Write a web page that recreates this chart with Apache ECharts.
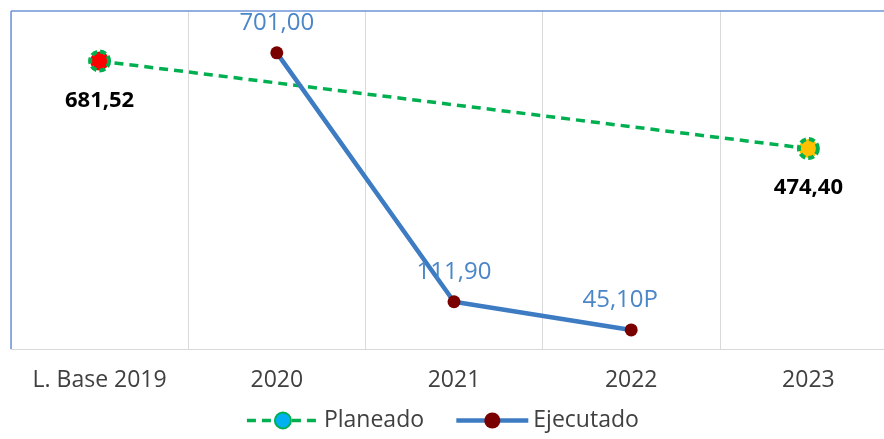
<!DOCTYPE html>
<html>
<head>
<meta charset="utf-8">
<script src="https://cdn.jsdelivr.net/npm/echarts@6/dist/echarts.min.js"></script>
<style>
  html, body { margin: 0; padding: 0; background: #ffffff; }
  #chart { width: 884px; height: 439px; }
</style>
</head>
<body>
<div id="chart"></div>
<script>
// Categories along the horizontal axis
const categories = ['L. Base 2019', '2020', '2021', '2022', '2023'];
// Planned values: baseline and target only, joined by a dashed line
const planeado = [681.52, null, null, null, 474.40];
// Executed values per year
const ejecutado = [null, 701.00, 111.90, 45.10, null];
// Suffix for provisional figures
const ejecutadoSufijo = ['', '', '', 'P', ''];

const FONT = '"Open Sans", "Liberation Sans", sans-serif';
const fmt = v => v.toFixed(2).replace('.', ',');

const planeadoColores = ['#FF0000', null, null, null, '#FFC000'];

const chart = echarts.init(document.getElementById('chart'));
chart.setOption({
  animation: false,
  backgroundColor: '#ffffff',
  textStyle: { fontFamily: FONT },
  grid: { left: 11, top: 11, width: 886, bottom: 90, containLabel: false, outerBoundsMode: 'none' },
  legend: {
    bottom: 2,
    left: 'center',
    itemWidth: 72,
    itemHeight: 20,
    itemGap: 30,
    textStyle: { fontSize: 23, color: '#404040', fontFamily: FONT },
    data: [
      { name: 'Planeado', lineStyle: { width: 3.5 } },
      { name: 'Ejecutado', lineStyle: { width: 4.5 } }
    ]
  },
  xAxis: {
    type: 'category',
    data: categories,
    boundaryGap: true,
    axisLine: { lineStyle: { color: '#d9d9d9', width: 1 } },
    axisTick: { show: false },
    axisLabel: { fontSize: 23, color: '#404040', margin: 20, fontFamily: FONT },
    splitLine: { show: true, lineStyle: { color: '#d9d9d9', width: 1 } }
  },
  yAxis: {
    type: 'value',
    min: 0,
    max: 800,
    show: false,
    splitLine: { show: false }
  },
  series: [
    {
      name: 'Planeado',
      type: 'line',
      connectNulls: true,
      symbol: 'circle',
      symbolSize: 19,
      lineStyle: { color: '#00B050', width: 3.5, type: [9, 6] },
      itemStyle: { color: '#00B0F0', borderColor: '#00B050', borderWidth: 4, borderType: [6, 3] },
      label: {
        show: true,
        position: 'bottom',
        distance: 17,
        fontSize: 22,
        fontWeight: 'bold',
        color: '#000000',
        fontFamily: FONT,
        formatter: p => fmt(p.value)
      },
      data: planeado.map((v, i) => v === null ? null : {
        value: v,
        itemStyle: planeadoColores[i] ? { color: planeadoColores[i] } : undefined
      }),
      z: 3
    },
    {
      name: 'Ejecutado',
      type: 'line',
      symbol: 'circle',
      symbolSize: 13,
      lineStyle: { color: '#3D7BC2', width: 4.5 },
      itemStyle: { color: '#7A0000' },
      label: {
        show: true,
        position: 'top',
        distance: 11,
        fontSize: 24,
        color: '#4A86C8',
        fontFamily: FONT
      },
      data: ejecutado.map((v, i) => v === null ? null : {
        value: v,
        label: {
          formatter: fmt(v) + ejecutadoSufijo[i],
          offset: ejecutadoSufijo[i] ? [-11, 0] : [0, 0]
        }
      }),
      z: 4
    }
  ],
  graphic: [
    // white band above the plot frame, then the frame's top and left edges
    { type: 'rect', z: 100, shape: { x: 0, y: 0, width: 884, height: 10.5 }, style: { fill: '#ffffff' } },
    { type: 'line', z: 101, shape: { x1: 11, y1: 11, x2: 884, y2: 11 }, style: { stroke: '#6F94D8', lineWidth: 1.5 } },
    { type: 'line', z: 101, shape: { x1: 11, y1: 11, x2: 11, y2: 349 }, style: { stroke: '#6F94D8', lineWidth: 1.5 } }
  ]
});
</script>
</body>
</html>
